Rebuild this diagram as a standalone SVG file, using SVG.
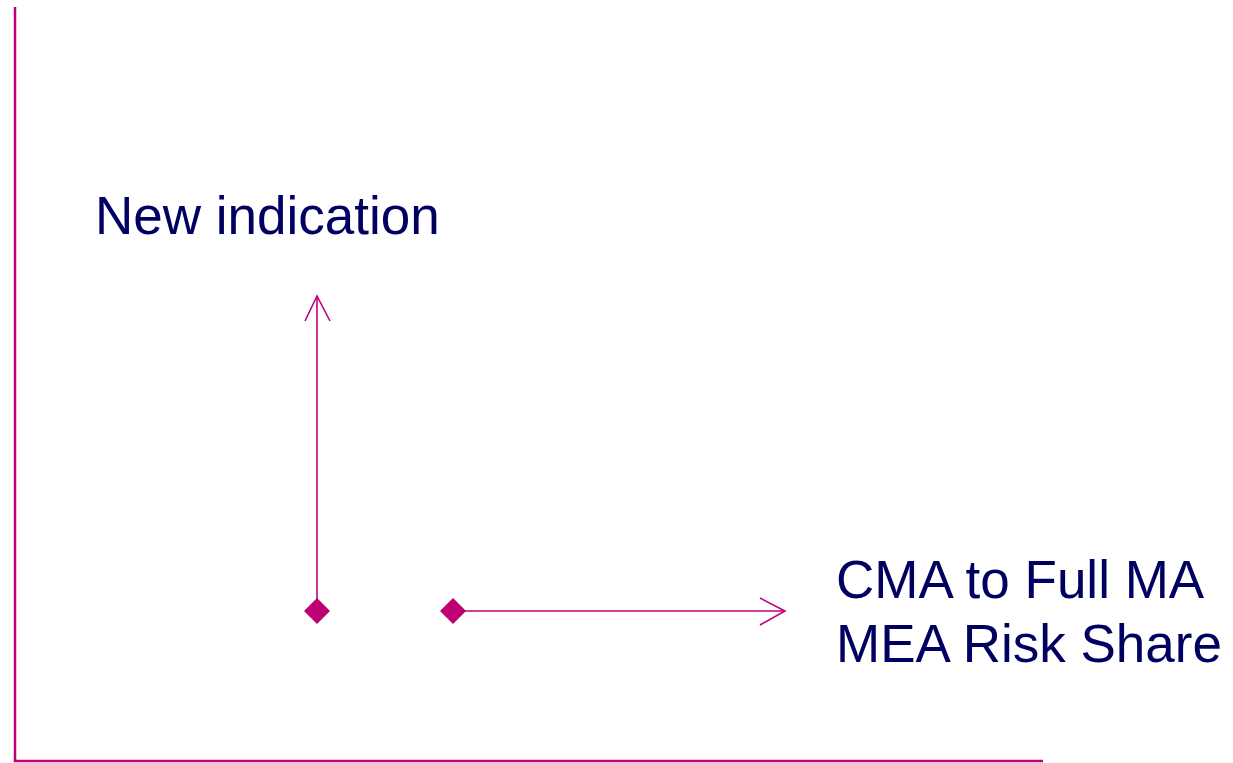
<svg xmlns="http://www.w3.org/2000/svg" width="1233" height="763" viewBox="0 0 1233 763">
<style>
.ax{stroke:#C0007A;stroke-width:2.5;fill:none}
.ln{stroke:#C0007A;stroke-width:1.6;fill:none}
.dm{fill:#BF0073}
.lb{font-family:"Liberation Sans",Arial,sans-serif;font-size:53px;fill:#000060}
</style>
<rect width="1233" height="763" fill="#ffffff"/>
<g id="axes">
<polyline class="ax" points="15,7 15,761 1043,761"/>
</g>
<g id="connectors">
<line class="ln" x1="317" y1="611" x2="317" y2="297"/>
<polyline class="ln" points="305,321 317,296 330,321"/>
<line class="ln" x1="453" y1="611" x2="784" y2="611"/>
<polyline class="ln" points="760,598 785,611 760,625"/>
</g>
<g id="diamond-vertical">
<polygon class="dm" points="317,598 330,611 317,624 304,611"/>
</g>
<g id="diamond-horizontal">
<polygon class="dm" points="453,598 466,611 453,624 440,611"/>
</g>
<g id="label-new-indication">
<text class="lb" x="95" y="234">New indication</text>
</g>
<g id="label-cma">
<text class="lb" x="836" y="598">CMA to Full MA</text>
<text class="lb" x="836" y="662">MEA Risk Share</text>
</g>
</svg>
